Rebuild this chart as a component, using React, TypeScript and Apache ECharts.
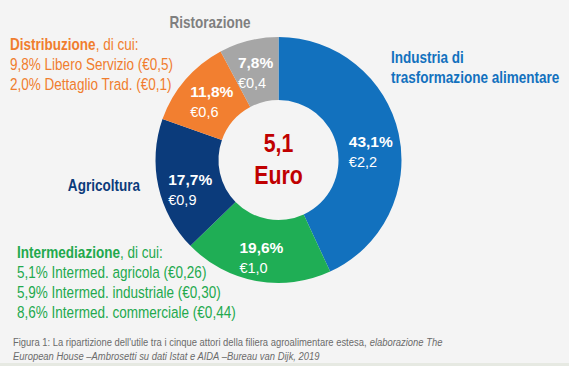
import React, { useEffect, useRef } from "react";
import * as echarts from "echarts";

const sectors = ["Industria di trasformazione alimentare", "Intermediazione", "Agricoltura", "Distribuzione", "Ristorazione"];
const shares = [43.1, 19.6, 17.7, 11.8, 7.8];
const euros = [2.2, 1.0, 0.9, 0.6, 0.4];
const sliceColors = ["#1271be", "#1fae55", "#0b3b7b", "#f27f30", "#a6a6a6"];

const distribShares = [9.8, 2.0];
const distribNames = ["Libero Servizio", "Dettaglio Trad."];
const distribEuros = ["0,5", "0,1"];

const intermShares = [5.1, 5.9, 8.6];
const intermNames = ["Intermed. agricola", "Intermed. industriale", "Intermed. commerciale"];
const intermEuros = ["0,26", "0,30", "0,44"];

const FONT = "'Liberation Sans',Arial,sans-serif";
const SX = 0.82;
const fmt = (v: number, d = 1) => v.toFixed(d).replace(".", ",");

export default function App() {
  const ref = useRef<HTMLDivElement>(null);
  useEffect(() => {
    if (!ref.current) return;
    const chart = echarts.init(ref.current, undefined, { renderer: "svg" });
    const total = euros.reduce((a, b) => a + b, 0);
    const cx = 278.5;
    const cy = 160;
    const orange = "#f07d2e";
    const green = "#22a94d";
    const labelOffsets = [[0, 12], [0, 5], [4, 9], [5, 3], [0, 4]];
    const graphics: any[] = [
      {
        type: "text", x: cx, y: 143, scaleX: SX,
        style: { text: fmt(total), fill: "#c00000", font: `bold 26px ${FONT}`, textAlign: "center", textVerticalAlign: "middle" },
      },
      {
        type: "text", x: cx, y: 175, scaleX: SX,
        style: { text: "Euro", fill: "#c00000", font: `bold 26px ${FONT}`, textAlign: "center", textVerticalAlign: "middle" },
      },
      {
        type: "text", x: 210, y: 22, scaleX: SX,
        style: { text: sectors[4], fill: "#7f7f7f", font: `bold 16.5px ${FONT}`, textAlign: "center", textVerticalAlign: "middle" },
      },
      {
        type: "text", x: 391, y: 67, scaleX: SX,
        style: { text: "Industria di\ntrasformazione alimentare", fill: "#1271be", font: `bold 16.5px ${FONT}`, lineHeight: 20, textVerticalAlign: "middle" },
      },
      {
        type: "text", x: 140, y: 185, scaleX: SX,
        style: { text: sectors[2], fill: "#0b3b7b", font: `bold 16.5px ${FONT}`, textAlign: "right", textVerticalAlign: "middle" },
      },
      {
        type: "text", x: 10, y: 34, scaleX: SX,
        style: {
          text:
            `{b|${sectors[3]}}{n|, di cui:}\n` +
            distribShares.map((s, i) => `{n|${fmt(s)}% ${distribNames[i]} (€${distribEuros[i]})}`).join("\n"),
          rich: {
            b: { fill: orange, font: `bold 16.5px ${FONT}`, lineHeight: 20 },
            n: { fill: orange, font: `16.5px ${FONT}`, lineHeight: 20 },
          },
        },
      },
      {
        type: "text", x: 17, y: 242, scaleX: SX,
        style: {
          text:
            `{b|${sectors[1]}}{n|, di cui:}\n` +
            intermShares.map((s, i) => `{n|${fmt(s)}% ${intermNames[i]} (€${intermEuros[i]})}`).join("\n"),
          rich: {
            b: { fill: green, font: `bold 16.5px ${FONT}`, lineHeight: 20 },
            n: { fill: green, font: `16.5px ${FONT}`, lineHeight: 20 },
          },
        },
      },
      {
        type: "text", x: 13, y: 334, scaleX: SX,
        style: {
          text:
            "{n|Figura 1: La ripartizione dell'utile tra i cinque attori della filiera agroalimentare estesa, }{i|elaborazione The}\n{i|European House –Ambrosetti su dati Istat e AIDA –Bureau van Dijk, 2019}",
          rich: {
            n: { fill: "#6b6b6b", font: `11.5px ${FONT}`, lineHeight: 14.5 },
            i: { fill: "#6b6b6b", font: `italic 11.5px ${FONT}`, lineHeight: 14.5 },
          },
        },
      },
      {
        type: "rect", shape: { x: 0, y: 363, width: 569, height: 3 },
        style: { fill: "#e6e9e2" },
      },
    ];
    chart.setOption({
      animation: false,
      backgroundColor: "#f4f4f4",
      graphic: graphics,
      series: [
        {
          type: "pie",
          center: [cx, cy],
          radius: [60, 123],
          startAngle: 90,
          clockwise: true,
          avoidLabelOverlap: false,
          labelLine: { show: false },
          itemStyle: { borderWidth: 0 },
          emphasis: { disabled: true },
          data: shares.map((s, i) => ({
            name: sectors[i],
            value: s,
            itemStyle: { color: sliceColors[i] },
            label: { offset: labelOffsets[i] },
          })),
          label: {
            show: true,
            position: "inside",
            formatter: (p: any) => `{a|${fmt(p.value)}%}\n{b|€${fmt(euros[p.dataIndex])}}`,
            rich: {
              a: { color: "#ffffff", fontFamily: FONT, fontWeight: "bold", fontSize: 15.5, lineHeight: 21, align: "left" },
              b: { color: "#ffffff", fontFamily: FONT, fontSize: 14.5, lineHeight: 20, align: "left" },
            },
          },
        },
      ],
    });
    return () => chart.dispose();
  }, []);
  return <div ref={ref} style={{ position: "absolute", left: 0, top: 0, width: 569, height: 366 }} />;
}
